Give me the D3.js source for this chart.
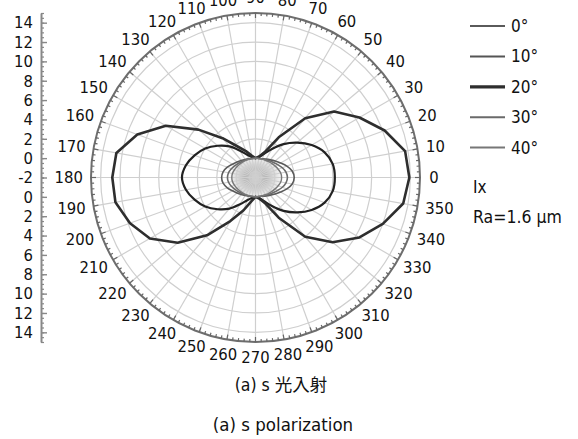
<!DOCTYPE html>
<html>
<head>
<meta charset="utf-8">
<script src="https://cdn.jsdelivr.net/npm/d3@7"></script>
<style>
  body { margin: 0; background: #fff; }
  svg text { fill: #111; }
</style>
</head>
<body>
<div id="chart"></div>
<script>
'use strict';

// angles in degrees, 0 = right, counter-clockwise
const angles = [0, 10, 20, 30, 40, 50, 60, 70, 80, 90, 100, 110, 120, 130, 140, 150, 160, 170,
                180, 190, 200, 210, 220, 230, 240, 250, 260, 270, 280, 290, 300, 310, 320, 330, 340, 350];

const ix0 = [2.0, 1.85, 1.45, 1.0, 0.65, 0.38, 0.19, 0.06, 0, 0, 0, 0.05, 0.15, 0.3, 0.5, 0.75, 1.1, 1.4,
             1.5, 1.4, 1.1, 0.75, 0.5, 0.3, 0.15, 0.05, 0, 0, 0, 0.06, 0.19, 0.38, 0.65, 1.0, 1.45, 1.85];
const ix10 = [6.2, 6.1, 5.6, 4.7, 3.6, 2.5, 1.4, 0.6, 0.15, 0, 0.15, 0.5, 1.2, 2.2, 3.1, 4.0, 4.7, 5.3,
              5.6, 5.3, 4.7, 4.0, 3.1, 2.2, 1.2, 0.5, 0.15, 0, 0.15, 0.6, 1.4, 2.5, 3.6, 4.7, 5.6, 6.1];
const ix20 = [13.9, 13.7, 12.2, 10.4, 8.6, 6.0, 2.8, 0.8, 0.2, 0, 0.3, 0.9, 1.7, 3.3, 5.7, 8.7, 11.0, 12.6,
              12.8, 12.7, 11.8, 10.6, 8.5, 5.8, 3.2, 1.6, 0.5, 0, 0.2, 0.8, 2.8, 6.0, 8.4, 10.4, 12.0, 13.5];
const ix30 = [1.3, 1.2, 0.95, 0.65, 0.42, 0.25, 0.12, 0.04, 0, 0, 0, 0.03, 0.08, 0.17, 0.29, 0.45, 0.65, 0.83,
              0.9, 0.83, 0.65, 0.45, 0.29, 0.17, 0.08, 0.03, 0, 0, 0, 0.04, 0.12, 0.25, 0.42, 0.65, 0.95, 1.2];
const ix40 = [0.7, 0.65, 0.5, 0.35, 0.22, 0.13, 0.06, 0.02, 0, 0, 0, 0.01, 0.04, 0.08, 0.14, 0.22, 0.32, 0.42,
              0.45, 0.42, 0.32, 0.22, 0.14, 0.08, 0.04, 0.01, 0, 0, 0, 0.02, 0.06, 0.13, 0.22, 0.35, 0.5, 0.65];

const legendNames = ["0°", "10°", "20°", "30°", "40°"];
const radialTicks = [-2, 0, 2, 4, 6, 8, 10, 12, 14];
const angleLabels = [0, 10, 20, 30, 40, 50, 60, 70, 80, 90, 100, 110, 120, 130, 140, 150, 160, 170,
                     180, 190, 200, 210, 220, 230, 240, 250, 260, 270, 280, 290, 300, 310, 320, 330, 340, 350];

const series = [
  {name: legendNames[0], values: ix0,  color: "#5a5a5a", width: 1.6, curve: d3.curveCatmullRomClosed, lw: 2},
  {name: legendNames[1], values: ix10, color: "#222",    width: 2.2, curve: d3.curveCatmullRomClosed, lw: 2},
  {name: legendNames[2], values: ix20, color: "#2e2e2e", width: 2.6, curve: d3.curveLinearClosed,     lw: 3.2},
  {name: legendNames[3], values: ix30, color: "#6a6a6a", width: 1.6, curve: d3.curveCatmullRomClosed, lw: 2},
  {name: legendNames[4], values: ix40, color: "#777",    width: 1.4, curve: d3.curveCatmullRomClosed, lw: 2}
];

const width = 578, height = 439;
const cx = 255.5, cy = 177.5, R = 164.5;
const font = "'DejaVu Sans Condensed', 'Liberation Sans Narrow', sans-serif";

const svg = d3.select("#chart").append("svg")
    .attr("width", width)
    .attr("height", height)
    .style("font-family", font);

// radial scale: -2 at the centre, 15 at the rim
let r = d3.scaleLinear().domain([-2, 15]).range([0, R]);
let toRad = deg => (90 - deg) * Math.PI / 180;

let g = svg.append("g").attr("transform", `translate(${cx},${cy})`);

// shaded core
let defs = svg.append("defs");
let grad = defs.append("radialGradient").attr("id", "core");
grad.append("stop").attr("offset", "0%").attr("stop-color", "#7e7e7e");
grad.append("stop").attr("offset", "55%").attr("stop-color", "#c8c8c8");
grad.append("stop").attr("offset", "100%").attr("stop-color", "#f2f2f2");
g.append("ellipse")
    .attr("rx", r(0.6)).attr("ry", r(0))
    .attr("fill", "url(#core)");

// grid circles
g.selectAll(".gcirc")
    .data([0, 2, 4, 6, 8, 10, 12, 14])
    .join("circle")
    .attr("class", "gcirc")
    .attr("r", d => r(d))
    .attr("fill", "none")
    .attr("stroke", "#cfcfcf")
    .attr("stroke-width", 1.2);

// spokes
g.selectAll(".spoke")
    .data(angles)
    .join("line")
    .attr("class", "spoke")
    .attr("x1", 0).attr("y1", 0)
    .attr("x2", d => R * Math.cos(d * Math.PI / 180))
    .attr("y2", d => -R * Math.sin(d * Math.PI / 180))
    .attr("stroke", "#cfcfcf")
    .attr("stroke-width", 1.2);

// rim
g.append("circle")
    .attr("r", R)
    .attr("fill", "none")
    .attr("stroke", "#6e6e6e")
    .attr("stroke-width", 2);

// rim ticks every 2 deg
g.selectAll(".rtick")
    .data(d3.range(0, 360, 2))
    .join("line")
    .attr("class", "rtick")
    .attr("x1", d => R * Math.cos(d * Math.PI / 180))
    .attr("y1", d => -R * Math.sin(d * Math.PI / 180))
    .attr("x2", d => (R - (d % 10 === 0 ? 5 : 3)) * Math.cos(d * Math.PI / 180))
    .attr("y2", d => -(R - (d % 10 === 0 ? 5 : 3)) * Math.sin(d * Math.PI / 180))
    .attr("stroke", "#666")
    .attr("stroke-width", 1.2);

// data curves
let line = d3.lineRadial()
    .angle(d => toRad(d.a))
    .radius(d => r(d.v));

g.selectAll(".curve")
    .data(series)
    .join("path")
    .attr("class", "curve")
    .attr("fill", "none")
    .attr("stroke", d => d.color)
    .attr("stroke-width", d => d.width)
    .attr("stroke-linejoin", "round")
    .attr("d", d => line.curve(d.curve)(angles.map((a, i) => ({a: a, v: d.values[i]}))));

// angle labels (the top ones run off the page, as in the source figure)
const labelSize = 16.5;
g.selectAll(".alabel")
    .data(angleLabels)
    .join("text")
    .attr("class", "alabel")
    .attr("font-size", labelSize)
    .attr("text-anchor", "middle")
    .attr("dominant-baseline", "central")
    .attr("x", d => {
        let c = Math.cos(d * Math.PI / 180);
        let w = String(d).length * 8.2;
        return (R + 10) * c + c * w / 2;
    })
    .attr("y", d => {
        let s = Math.sin(d * Math.PI / 180);
        return -(R + 9) * s - s * 6.5;
    })
    .text(d => d);

// left radial axis (mirrored)
let up = d3.scaleLinear().domain([-2, 15]).range([cy, cy - R]);
let down = d3.scaleLinear().domain([-2, 15]).range([cy, cy + R]);
let axisG = svg.append("g").attr("transform", "translate(41,0)");

function drawAxis(scale, labels) {
    let minor = axisG.append("g")
        .call(d3.axisLeft(scale).tickValues(d3.range(-2, 15.01, 0.5)).tickSizeInner(-3).tickSizeOuter(0).tickFormat(""));
    minor.select(".domain").attr("stroke", "#888").attr("stroke-width", 2);
    minor.selectAll("line").attr("stroke", "#888").attr("stroke-width", 1.2);
    let major = axisG.append("g")
        .call(d3.axisLeft(scale).tickValues(labels).tickSizeInner(-6).tickSizeOuter(0).tickPadding(8)
            .tickFormat(d => d < 0 ? "-" + Math.abs(d) : d));
    major.select(".domain").remove();
    major.selectAll("line").attr("stroke", "#888").attr("stroke-width", 1.4);
    major.selectAll("text")
        .attr("font-size", labelSize)
        .attr("font-family", font)
        .attr("fill", "#111");
}
drawAxis(up, radialTicks);
drawAxis(down, radialTicks.filter(d => d >= 0));

// legend
let legend = svg.append("g").attr("transform", "translate(470,26)");
let items = legend.selectAll(".item")
    .data(series)
    .join("g")
    .attr("class", "item")
    .attr("transform", (d, i) => `translate(0,${i * 30.4})`);
items.append("line")
    .attr("x1", 0).attr("x2", 35)
    .attr("stroke", d => d.color === "#222" ? "#555" : d.color)
    .attr("stroke-width", d => d.lw);
items.append("text")
    .attr("x", 41)
    .attr("dy", "0.35em")
    .attr("font-size", 17)
    .text(d => d.name);

svg.append("text")
    .attr("x", 473).attr("y", 187)
    .attr("dy", "0.35em")
    .attr("font-size", 17)
    .text("Ix");
svg.append("text")
    .attr("x", 473).attr("y", 217)
    .attr("dy", "0.35em")
    .attr("font-size", 17.5)
    .text("Ra=1.6 μm");

// captions
svg.append("text")
    .attr("x", 281).attr("y", 385)
    .attr("dy", "0.35em")
    .attr("text-anchor", "middle")
    .attr("font-size", 17.5)
    .attr("font-family", "'DejaVu Sans Condensed', 'Noto Sans CJK TC', sans-serif")
    .text("(a) s 光入射");
svg.append("text")
    .attr("x", 283).attr("y", 425)
    .attr("dy", "0.35em")
    .attr("text-anchor", "middle")
    .attr("font-size", 18.5)
    .text("(a) s polarization");
</script>
</body>
</html>
